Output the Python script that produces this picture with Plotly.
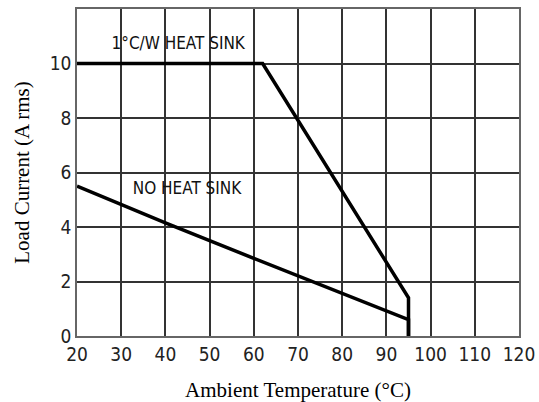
import plotly.graph_objects as go

# Data
heatsink_x = [20, 62, 95, 95]
heatsink_y = [10, 10, 1.4, 0]
noheatsink_x = [20, 40, 60, 95, 95]
noheatsink_y = [5.5, 4.15, 2.85, 0.6, 0]
x_ticks = [20, 30, 40, 50, 60, 70, 80, 90, 100, 110, 120]
y_ticks = [0, 2, 4, 6, 8, 10]
labels = ["1°C/W HEAT SINK", "NO HEAT SINK"]
label_x = [42.9, 44.9]
label_y = [10.68, 5.38]

COND = "DejaVu Sans Condensed, DejaVu Sans, Liberation Sans, sans-serif"

fig = go.Figure()
fig.add_trace(go.Scatter(x=heatsink_x, y=heatsink_y, mode="lines",
                         line=dict(color="black", width=3.5), showlegend=False))
fig.add_trace(go.Scatter(x=noheatsink_x, y=noheatsink_y, mode="lines",
                         line=dict(color="black", width=3.5), showlegend=False))
fig.add_trace(go.Scatter(x=label_x, y=label_y, mode="text", text=labels,
                         textfont=dict(family=COND, size=17, color="#111"),
                         showlegend=False))

fig.update_layout(
    width=539, height=402,
    margin=dict(l=77, r=20, t=9, b=66),
    paper_bgcolor="white", plot_bgcolor="white",
    xaxis=dict(range=[20, 120], tickvals=x_ticks, showgrid=True, automargin=False,
               gridcolor="#333", gridwidth=1.6,
               showline=True, linecolor="#666", linewidth=1.5, mirror=True,
               ticks="", zeroline=False, ticklabeloverflow="allow",
               ticklabelstandoff=0,
               tickfont=dict(family=COND, size=19, color="#222"),
               title=dict(text="Ambient Temperature (°C)",
                          font=dict(family="Liberation Serif", size=21, color="black"),
                          standoff=19)),
    yaxis=dict(range=[0, 12], tickvals=y_ticks, showgrid=True, automargin=False,
               gridcolor="#333", gridwidth=1.6,
               showline=True, linecolor="#666", linewidth=1.5, mirror=True,
               ticks="", zeroline=False,
               tickfont=dict(family=COND, size=19, color="#222"),
               title=dict(text="Load Current (A rms)",
                          font=dict(family="Liberation Serif", size=21, color="black"),
                          standoff=14)),
)

fig.write_html("out.html", config={"displayModeBar": False},
               post_script="document.body.style.margin='0';document.body.style.overflow='hidden';")
